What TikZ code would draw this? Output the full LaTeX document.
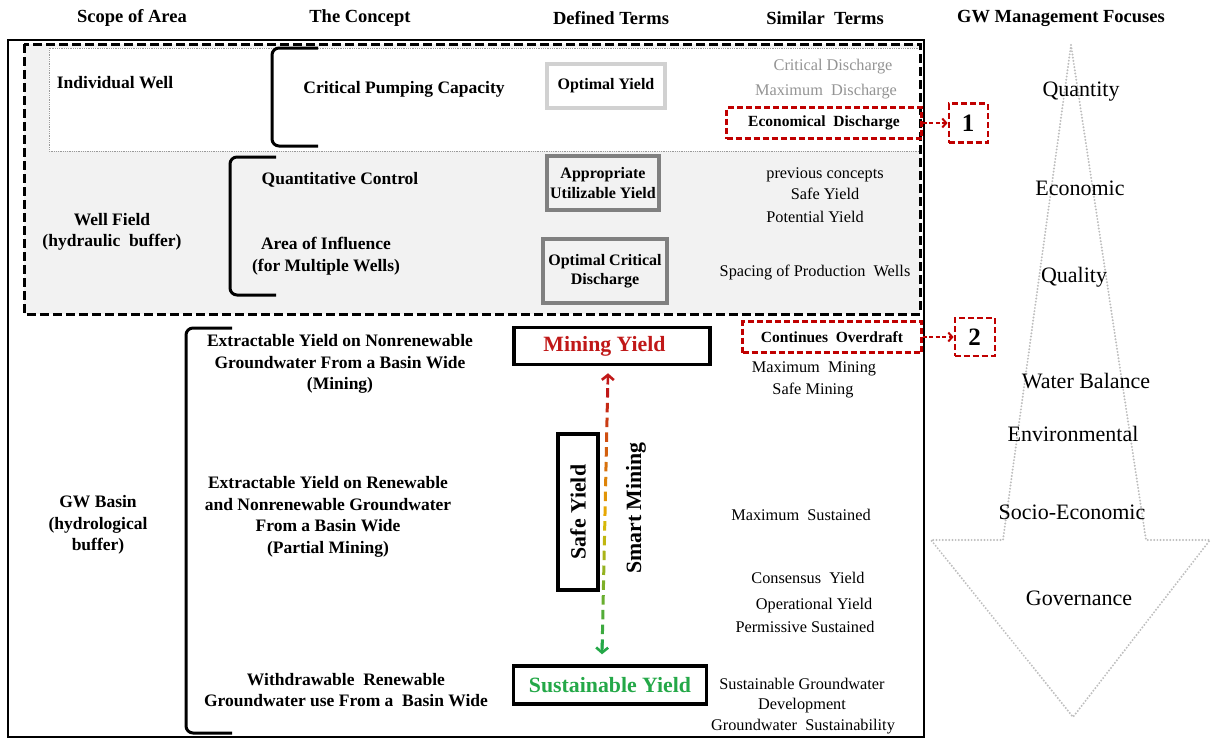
\documentclass[tikz,border=0pt]{standalone}
\usepackage{fontspec}
\setmainfont{Liberation Serif}
\usepackage{xcolor}
\definecolor{REDCOLOR}{RGB}{192,0,0}
\definecolor{MINECOLOR}{RGB}{192,24,24}
\definecolor{MIDCOLOR}{RGB}{236,186,0}
\definecolor{SUSTCOLOR}{RGB}{36,168,72}
\definecolor{FIELDCOLOR}{RGB}{242,242,242}
\definecolor{DOTCOLOR}{RGB}{190,190,190}
\usetikzlibrary{shapes,arrows,arrows.meta,positioning,calc,backgrounds}
\tikzset{
  head-style/.style = {
    font=\bfseries\fontsize{18.5}{21}\selectfont, inner sep=0pt
  },
  concept-style/.style = {
    font=\bfseries\fontsize{17.5}{21.5}\selectfont, align=center, inner sep=0pt
  },
  term-style/.style = {
    rectangle, draw=#1, line width=3.5pt,
    font=\bfseries\fontsize{16}{19.5}\selectfont, align=center, inner sep=0pt
  },
  term-style/.default = black,
  big-term-style/.style = {
    term-style, font=\bfseries\fontsize{21.8}{24}\selectfont
  },
  similar-style/.style = {
    font=\fontsize{16.3}{20}\selectfont, align=center, inner sep=0pt
  },
  mark-style/.style = {
    rectangle, draw=REDCOLOR, dash pattern=on 6pt off 3pt, line width=2.2pt,
    font=\bfseries\fontsize{15.5}{18}\selectfont, inner sep=0pt
  },
  num-style/.style = {
    mark-style, font=\bfseries\fontsize{25}{25}\selectfont
  },
  focus-style/.style = {
    font=\fontsize{22}{24}\selectfont, inner sep=0pt
  },
  bracket-style/.style = {
    draw, line width=3pt, rounded corners=7pt
  },
  mark-arrow-style/.style = {
    REDCOLOR, line width=2pt, dash pattern=on 4pt off 2.5pt,
    -{Straight Barb[length=4pt,width=9pt]}
  },
  tip-style/.style = {
    #1, line width=2.6pt, -{Straight Barb[length=5pt,width=12pt]}
  },
  every edge/.style = {draw}
}

\begin{document}
\begin{tikzpicture}[x=1pt,y=-1pt]
    \useasboundingbox (0,0) rectangle (1213,740);

    %%% column heads
    \node[head-style] (hScope) at (132,18) {Scope of Area};
    \node[head-style] (hConcept) at (360,18) {The Concept};
    \node[head-style] (hDefined) at (611,18) {Defined Terms};
    \node[head-style] (hSimilar) at (825,18) {Similar\ \ Terms};
    \node[head-style] (hFocus) at (1061,18) {GW Management Focuses};

    %%% frames
    \draw[line width=2.5pt] (8,40) rectangle (924,737);
    \fill[FIELDCOLOR] (24,44) rectangle (920,314);
    \draw[black!40, fill=white, line width=0.8pt, densely dotted]
      (920,48) -- (49,48) -- (49,151) -- (920,151);
    \draw[line width=3pt, dash pattern=on 9pt off 4pt] (24,44) rectangle (920,314);

    %%% brackets
    \draw[bracket-style] (318,48) -- (272,48) -- (272,146) -- (318,146);
    \draw[bracket-style] (276,157) -- (230,157) -- (230,295) -- (276,295);
    \draw[bracket-style] (232,328) -- (186,328) -- (186,733) -- (232,733);

    %%% individual well
    \node[concept-style] (wellInd) at (115,83) {Individual Well};
    \node[concept-style] (critPump) at (404,89) {Critical Pumping Capacity};
    \node[term-style=black!18, minimum width=118pt, minimum height=44pt] (optYield) at (606,86) {Optimal Yield};
    \node[similar-style, text=black!42] (critDis) at (833,67) {Critical Discharge};
    \node[similar-style, text=black!42] (maxDis) at (826,92) {Maximum\ \ Discharge};
    \node[mark-style, minimum width=195pt, minimum height=31pt] (econDis) at (824,123) {Economical\ \ Discharge};
    \node[num-style, minimum width=39pt, minimum height=39pt, right=25pt of econDis] (numOne) {1};

    %%% well field
    \node[concept-style] (wellField) at (112,232) {Well Field\\(hydraulic\ \ buffer)};
    \node[concept-style] (quantCtrl) at (340,180) {Quantitative Control};
    \node[concept-style] (areaInf) at (326,256) {Area of Influence\\(for Multiple Wells)};
    \node[term-style=black!50, minimum width=112pt, minimum height=54pt] (approYield) at (603,183) {Appropriate\\Utilizable Yield};
    \node[term-style=black!50, minimum width=124pt, minimum height=64pt] (optCrit) at (605,271) {Optimal Critical\\Discharge};
    \node[similar-style] (prevCon) at (825,175) {previous concepts};
    \node[similar-style] (safeYieldA) at (825,194) {Safe Yield};
    \node[similar-style] (potYield) at (815,217) {Potential Yield};
    \node[similar-style] (spacing) at (815,273) {Spacing of Production\ \ Wells};

    %%% groundwater basin
    \node[concept-style] (basin) at (98,525) {GW Basin\\(hydrological\\buffer)};
    \node[concept-style] (extNon) at (340,364) {Extractable Yield on Nonrenewable\\Groundwater From a Basin Wide\\(Mining)};
    \node[concept-style] (extRen) at (328,517) {Extractable Yield on Renewable\\and Nonrenewable Groundwater\\From a Basin Wide\\(Partial Mining)};
    \node[concept-style] (withRen) at (346,690) {Withdrawable\ \ Renewable\\Groundwater use From a\ \ Basin Wide};

    \node[big-term-style, text=MINECOLOR, minimum width=196pt, minimum height=37pt] (mine) at (612,346) {Mining Yield\hspace*{15pt}};
    \node[big-term-style, text=SUSTCOLOR, minimum width=193pt, minimum height=38pt] (sust) at (610,685) {Sustainable Yield};
    \node[big-term-style, rotate=90, minimum width=156pt, minimum height=40pt] (safeYield) at (578,512) {Safe Yield};
    \node[big-term-style, draw=none, rotate=90] (smart) at (636,508) {Smart Mining};

    \node[mark-style, minimum width=179pt, minimum height=31pt] (overdraft) at (832,337) {Continues\ \ Overdraft};
    \node[num-style, minimum width=40pt, minimum height=38pt, right=31pt of overdraft] (numTwo) {2};
    \node[similar-style] (maxMine) at (814,369) {Maximum\ \ Mining};
    \node[similar-style] (safeMine) at (813,391) {Safe Mining};
    \node[similar-style] (maxSust) at (801,515) {Maximum\ \ Sustained};
    \node[similar-style] (consYield) at (808,578) {Consensus\ \ Yield};
    \node[similar-style] (operYield) at (814,606) {Operational Yield};
    \node[similar-style] (permSust) at (805,627) {Permissive Sustained};
    \node[similar-style] (sustDev) at (802,696) {Sustainable Groundwater\\Development};
    \node[similar-style] (gwSust) at (803,727) {Groundwater\ \ Sustainability};

    %%% management focuses
    \draw[DOTCOLOR, line width=2.2pt, line cap=round, dash pattern=on 0pt off 3.2pt]
      (1071,45) -- (1146,540) -- (1210,540) -- (1073,717) -- (931,540) -- (1003,540) -- cycle;
    \node[focus-style] (fQuantity) at (1081,92) {Quantity};
    \node[focus-style] (fEconomic) at (1080,188) {Economic};
    \node[focus-style] (fQuality) at (1074,277) {Quality};
    \node[focus-style] (fWater) at (1086,381) {Water Balance};
    \node[focus-style] (fEnv) at (1073,434) {Environmental};
    \node[focus-style] (fSocio) at (1072,512) {Socio-Economic};
    \node[focus-style] (fGov) at (1079,598) {Governance};

    %%% arrows
    \path (econDis.east) edge[mark-arrow-style] (numOne.west);
    \path (overdraft.east) edge[mark-arrow-style] (numTwo.west);

    \coordinate (aTop) at ($(mine.south)+(-4,7)$);
    \coordinate (aBot) at ($(sust.north)+(-8,-10)$);
    \foreach \i in {1,...,18}{
      \pgfmathsetmacro\tA{\i/19}
      \pgfmathsetmacro\tB{(\i+0.64)/19}
      \ifnum\i<10
        \pgfmathtruncatemacro\pc{100-11*(\i-1)}
        \colorlet{dashcol}{MINECOLOR!\pc!MIDCOLOR}
      \else
        \pgfmathtruncatemacro\pc{100-11*(\i-9)}
        \colorlet{dashcol}{MIDCOLOR!\pc!SUSTCOLOR}
      \fi
      \draw[dashcol, line width=3pt] ($(aTop)!\tA!(aBot)$) -- ($(aTop)!\tB!(aBot)$);
    }
    \draw[tip-style=MINECOLOR] ($(aTop)!0.04!(aBot)$) -- (aTop);
    \draw[tip-style=SUSTCOLOR] ($(aTop)!0.96!(aBot)$) -- (aBot);
\end{tikzpicture}
\end{document}
